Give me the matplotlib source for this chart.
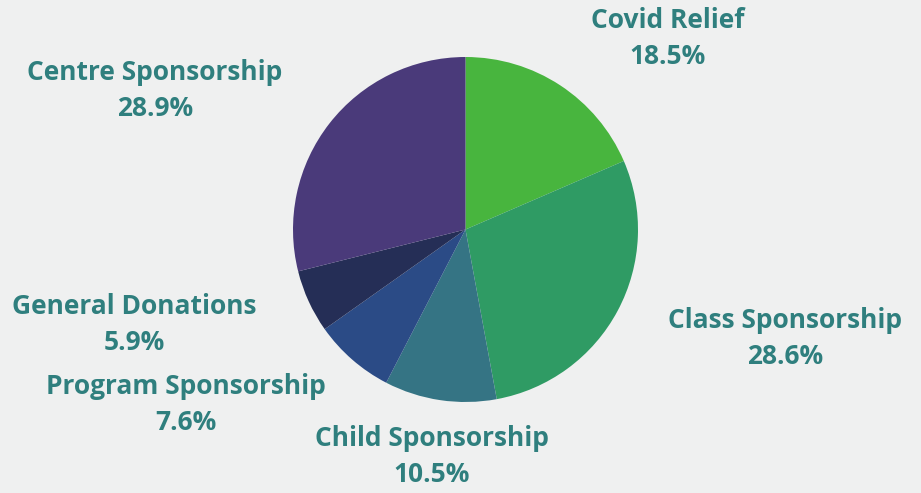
import matplotlib
matplotlib.use("Agg")
import matplotlib.pyplot as plt

# data
categories = ["Covid Relief", "Class Sponsorship", "Child Sponsorship",
              "Program Sponsorship", "General Donations", "Centre Sponsorship"]
shares = [18.5, 28.6, 10.5, 7.6, 5.9, 28.9]
colors = ["#48b53e", "#2f9b64", "#357484", "#2b4b86", "#252e56", "#4a3a7a"]

# label centres in pixels (x, y from top) for name line
label_pos = [(668, 21), (785, 321), (432, 438), (186, 386), (134, 307), (155, 73)]

W, H = 921, 493
bg = "#eff0f0"
text_color = "#2f7f7e"

fig = plt.figure(figsize=(W / 100, H / 100), dpi=100)
fig.patch.set_facecolor(bg)

cx, cy, r = 465.5, 229.5, 172.5
ax = fig.add_axes([(cx - r) / W, (H - cy - r) / H, 2 * r / W, 2 * r / H])
ax.pie(shares, colors=colors, startangle=90, counterclock=False, radius=1,
       wedgeprops=dict(linewidth=0))
ax.set_xlim(-1, 1)
ax.set_ylim(-1, 1)
ax.set_aspect("equal")
ax.axis("off")

for name, val, (x, y) in zip(categories, shares, label_pos):
    fig.text(x / W, 1 - y / H, name, ha="center", va="center",
             fontsize=19, fontweight="bold", family="Open Sans", color=text_color)
    fig.text(x / W, 1 - (y + 36) / H, f"{val}%", ha="center", va="center",
             fontsize=19, fontweight="bold", family="Open Sans", color=text_color)

fig.savefig("out.png", dpi=100, facecolor=bg)
